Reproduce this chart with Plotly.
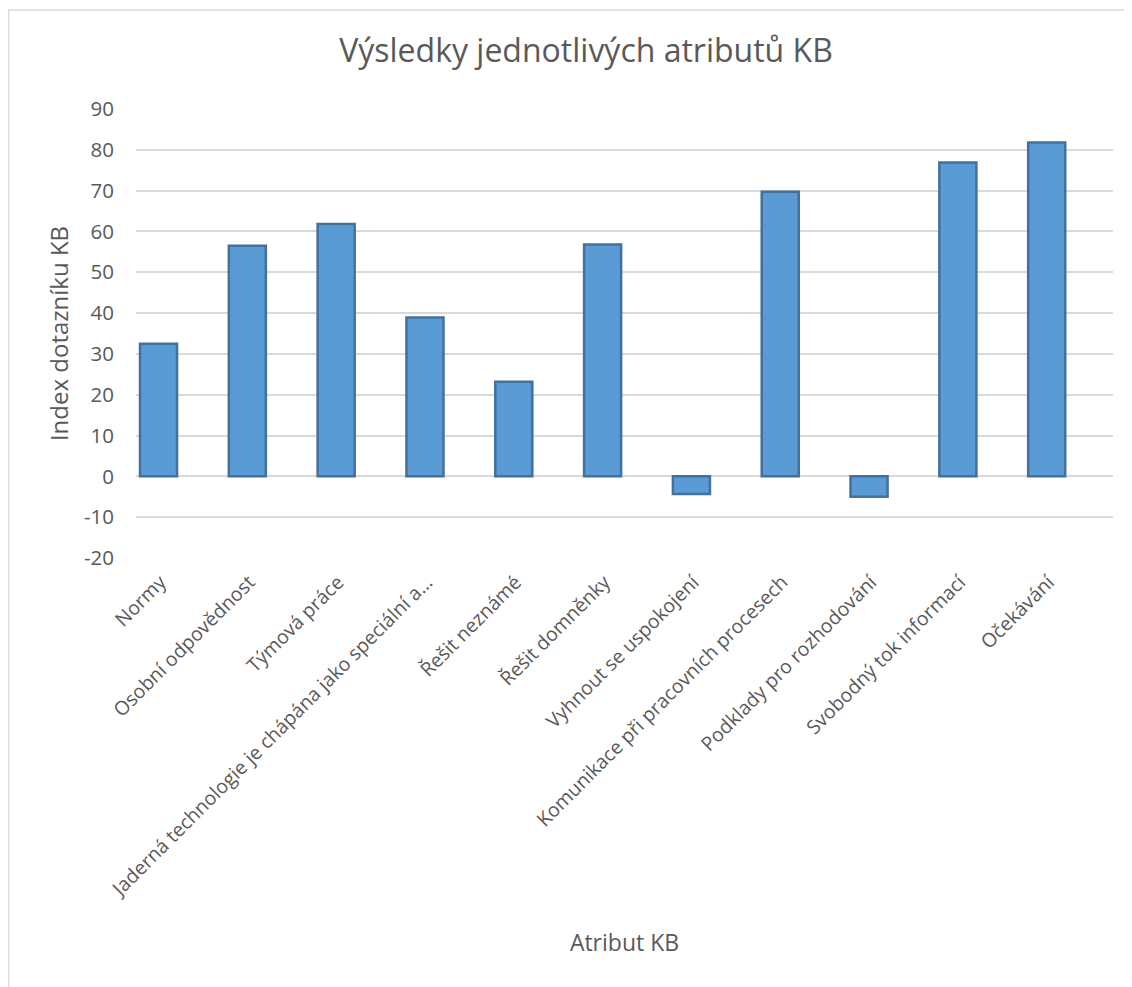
import plotly.graph_objects as go

categories = [
    "Normy",
    "Osobní odpovědnost",
    "Týmová práce",
    "Jaderná technologie je chápána jako speciální a…",
    "Řešit neznámé",
    "Řešit domněnky",
    "Vyhnout se uspokojení",
    "Komunikace při pracovních procesech",
    "Podklady pro rozhodování",
    "Svobodný tok informací",
    "Očekávání",
]
values = [32.5, 56.5, 61.8, 38.9, 23.2, 56.8, -4.3, 69.7, -5.0, 76.9, 81.8]
y_ticks = [-20, -10, 0, 10, 20, 30, 40, 50, 60, 70, 80, 90]
y_tick_text = [str(v) for v in y_ticks]

text_color = "#595959"
font_family = "Open Sans, Calibri, sans-serif"

# page body has an 8px margin, so the figure is a bit smaller than the window
W, H = 1124, 979
ML, MR, MT, MB = 128, 19, 101, 429
plot_w = W - ML - MR
plot_h = H - MT - MB

# bars sit in the left part of each category slot (Excel cluster look)
fig = go.Figure(
    data=[go.Bar(
        x=categories,
        y=values,
        width=0.417,
        offset=-0.455,
        marker=dict(color="#5B9BD5", line=dict(color="#41719C", width=2.5)),
    )]
)

fig.update_layout(
    width=W,
    height=H,
    paper_bgcolor="white",
    plot_bgcolor="white",
    font=dict(family=font_family, color=text_color),
    margin=dict(l=ML, r=MR, t=MT, b=MB, autoexpand=False),
    title=dict(
        text="Výsledky jednotlivých atributů KB",
        x=578 / W, xanchor="center",
        y=1 - 43 / H, yanchor="middle",
        font=dict(size=32, color=text_color),
    ),
    showlegend=False,
)

fig.update_xaxes(
    tickangle=-45,
    tickfont=dict(size=19.5, color=text_color),
    ticklabelshift=-20,
    ticklabelstandoff=8,
    showgrid=False,
    showline=False,
    title=dict(text="Atribut KB", font=dict(size=23, color=text_color), standoff=33),
)

fig.update_yaxes(
    range=[-20, 90],
    tickvals=y_ticks,
    ticktext=y_tick_text,
    tickfont=dict(size=20.5, color=text_color),
    showgrid=True,
    gridcolor="#D9D9D9",
    gridwidth=1.5,
    zeroline=True,
    zerolinecolor="#D9D9D9",
    zerolinewidth=1.5,
    ticklabelstandoff=21,
    title=dict(text="Index dotazníku KB", font=dict(size=24, color=text_color), standoff=8),
)

# chart area border (only left and top edges fall inside the picture)
fig.add_shape(
    type="rect", xref="paper", yref="paper",
    x0=-(ML - 0.5) / plot_w, x1=1 + (MR + 40) / plot_w,
    y0=-(MB + 40) / plot_h, y1=1 + (MT - 2) / plot_h,
    line=dict(color="#D9D9D9", width=1.5),
)

fig.write_html("out.html")
